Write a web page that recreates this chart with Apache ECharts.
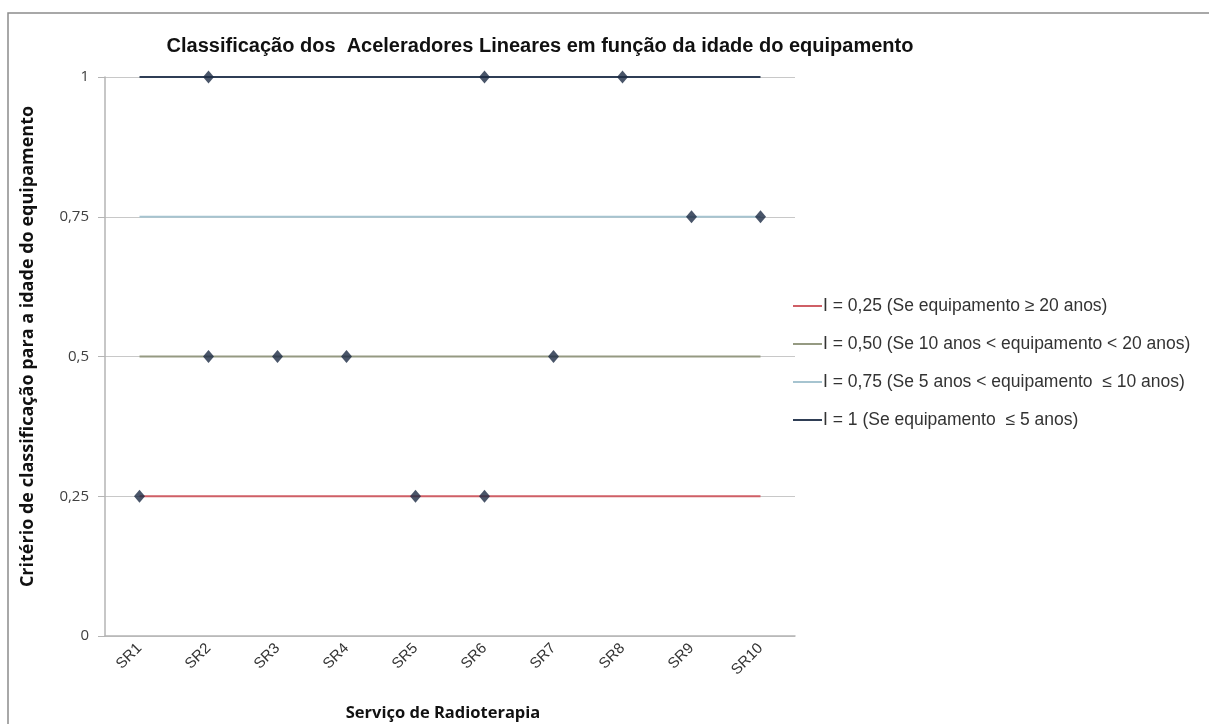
<!DOCTYPE html>
<html>
<head>
<meta charset="utf-8">
<script src="https://cdn.jsdelivr.net/npm/echarts@6/dist/echarts.min.js"></script>
<style>
  html, body { margin: 0; padding: 0; background: #ffffff; overflow: hidden; }
  #chart { width: 1209px; height: 724px; }
</style>
</head>
<body>
<div id="chart"></div>
<script>
// Radiotherapy services on the x axis
const categories = ['SR1', 'SR2', 'SR3', 'SR4', 'SR5', 'SR6', 'SR7', 'SR8', 'SR9', 'SR10'];

// Classification levels (reference lines) and their legend labels
const levels = [0.25, 0.5, 0.75, 1];
const levelNames = [
  'I = 0,25 (Se equipamento \u2265 20 anos)',
  'I = 0,50 (Se 10 anos < equipamento < 20 anos)',
  'I = 0,75 (Se 5 anos < equipamento  \u2264 10 anos)',
  'I = 1 (Se equipamento  \u2264 5 anos)'
];
const levelColors = ['#cf5f66', '#959a82', '#a6c4d0', '#2f3e55'];

// Classification of each linear accelerator per service
const pointCategories = ['SR1', 'SR2', 'SR2', 'SR3', 'SR4', 'SR5', 'SR6', 'SR6', 'SR7', 'SR8', 'SR9', 'SR10'];
const pointValues = [0.25, 1, 0.5, 0.5, 0.5, 0.25, 1, 0.25, 0.5, 1, 0.75, 0.75];

// Y axis tick labels (Portuguese decimal comma)
const yTicks = { 0: '0', 0.25: '0,25', 0.5: '0,5', 0.75: '0,75', 1: '1' };

const chart = echarts.init(document.getElementById('chart'), null, { renderer: 'canvas' });

const lineSeries = levels.map((lv, i) => ({
  name: levelNames[i],
  type: 'line',
  data: categories.map(() => lv),
  symbol: 'none',
  lineStyle: { color: levelColors[i], width: 2 },
  itemStyle: { color: levelColors[i] },
  z: 2
}));

const pointSeries = {
  name: 'Aceleradores',
  type: 'scatter',
  data: pointCategories.map((c, i) => [c, pointValues[i]]),
  symbol: 'diamond',
  symbolSize: [11, 13],
  itemStyle: { color: '#1c2a44' },
  z: 3
};

chart.setOption({
  animation: false,
  backgroundColor: '#ffffff',
  graphic: [{
    type: 'rect',
    shape: { x: 8, y: 13, width: 1400, height: 900 },
    style: { fill: 'none', stroke: '#8c8c8c', lineWidth: 1.5 },
    z: 0
  }],
  title: {
    text: 'Classifica\u00e7\u00e3o dos  Aceleradores Lineares em fun\u00e7\u00e3o da idade do equipamento',
    left: 535,
    textAlign: 'center',
    top: 31,
    textStyle: { fontFamily: 'Liberation Sans, Arial, sans-serif', fontSize: 20, fontWeight: 'bold', color: '#111111' }
  },
  legend: {
    orient: 'vertical',
    left: 788,
    top: 292,
    itemWidth: 29,
    itemHeight: 18,
    itemGap: 20,
    data: levelNames,
    icon: 'path://M0,8 L29,8 L29,10 L0,10 Z',
    textStyle: { fontFamily: 'Liberation Sans, Arial, sans-serif', fontSize: 17.5, color: '#333333', padding: [0, 0, 0, -4] }
  },
  grid: { left: 105, width: 690, top: 77, height: 559, containLabel: false, outerBoundsMode: 'none' },
  xAxis: {
    type: 'category',
    data: categories,
    boundaryGap: true,
    name: 'Servi\u00e7o de Radioterapia',
    nameLocation: 'middle',
    nameGap: 69,
    nameTextStyle: { fontFamily: 'Open Sans, sans-serif', fontSize: 16.5, fontWeight: 'bold', color: '#111111', padding: [0, 14, 0, 0] },
    axisLine: { lineStyle: { color: '#b4b4b4', width: 1.5 } },
    axisTick: { show: false },
    axisLabel: {
      rotate: 45,
      margin: 10,
      fontFamily: 'Liberation Sans, Arial, sans-serif',
      fontSize: 15,
      color: '#333333'
    }
  },
  yAxis: {
    type: 'value',
    min: 0,
    max: 1,
    interval: 0.25,
    name: 'Crit\u00e9rio de classifica\u00e7\u00e3o para a idade do equipamento',
    nameLocation: 'middle',
    nameGap: 68,
    nameTextStyle: { fontFamily: 'Open Sans, sans-serif', fontSize: 18, fontWeight: 'bold', color: '#111111', padding: [0, 0, 0, 20] },
    axisLine: { show: true, lineStyle: { color: '#b4b4b4', width: 1.5 } },
    axisTick: { show: true, inside: false, length: 7, lineStyle: { color: '#b4b4b4' } },
    axisLabel: {
      margin: 16,
      fontFamily: 'Open Sans, sans-serif',
      fontSize: 15,
      color: '#404040',
      formatter: v => yTicks[v] !== undefined ? yTicks[v] : String(v).replace('.', ',')
    },
    splitLine: { show: true, lineStyle: { color: '#c8c8c8', width: 1 } }
  },
  series: [...lineSeries, pointSeries]
});
</script>
</body>
</html>
